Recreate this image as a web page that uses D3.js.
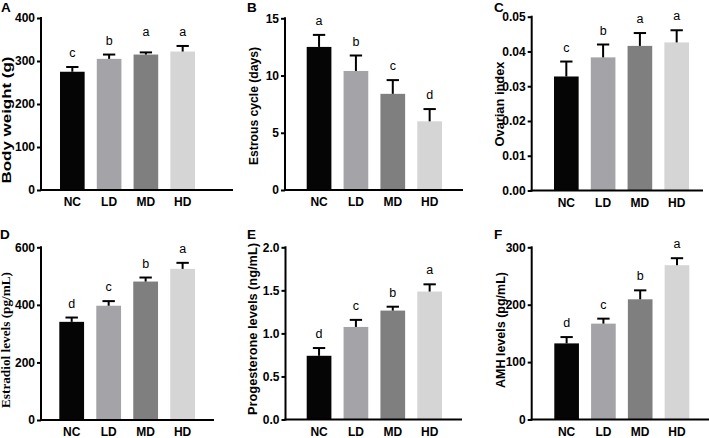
<!DOCTYPE html>
<html>
<head>
<meta charset="utf-8">
<script src="https://cdn.jsdelivr.net/npm/d3@7"></script>
<style>
  html, body { margin: 0; padding: 0; background: #ffffff; }
  svg { display: block; }
</style>
</head>
<body>
<svg id="chart" width="709" height="438"></svg>
<script>
// ---------------- DATA ----------------
const categories = ["NC", "LD", "MD", "HD"];

const bodyWeightMean = [275, 305, 315, 322];
const bodyWeightErr  = [11, 10, 5, 13];
const bodyWeightSig  = ["c", "b", "a", "a"];
const bodyWeightTicks = [0, 100, 200, 300, 400];

const estrousMean = [12.5, 10.4, 8.4, 6.0];
const estrousErr  = [1.05, 1.35, 1.2, 1.07];
const estrousSig  = ["a", "b", "c", "d"];
const estrousTicks = [0, 5, 10, 15];

const ovarianMean = [0.0328, 0.0383, 0.0416, 0.0426];
const ovarianErr  = [0.0043, 0.0037, 0.0037, 0.0035];
const ovarianSig  = ["c", "b", "a", "a"];
const ovarianTicks = [0, 0.01, 0.02, 0.03, 0.04, 0.05];

const estradiolMean = [341, 397, 481, 525];
const estradiolErr  = [15, 16, 14, 21];
const estradiolSig  = ["d", "c", "b", "a"];
const estradiolTicks = [0, 200, 400, 600];

const progesteroneMean = [0.74, 1.075, 1.265, 1.486];
const progesteroneErr  = [0.09, 0.082, 0.045, 0.084];
const progesteroneSig  = ["d", "c", "b", "a"];
const progesteroneTicks = [0, 0.5, 1.0, 1.5, 2.0];

const amhMean = [132.6, 167, 209.4, 268.8];
const amhErr  = [11, 8.7, 15.6, 12.2];
const amhSig  = ["d", "c", "b", "a"];
const amhTicks = [0, 100, 200, 300];

// ---------------- STYLE / LAYOUT ----------------
const barColors = ["#050505", "#a4a4a8", "#7f7f7f", "#d5d5d5"];
const SANS = "'Liberation Sans', Arial, sans-serif";
const SERIF = "'Liberation Serif', 'Times New Roman', serif";

const panels = [
  { tag: "A", title: "Body weight (g)", titleFont: SANS, titleLen: 127, titleX: 11, titleY: 120,
    mean: bodyWeightMean, err: bodyWeightErr, sig: bodyWeightSig, ticks: bodyWeightTicks, fmt: d3.format("d"),
    axisX: 41, xEnd: 233, barL: 60, barR: 195, yTop: 18, yBot: 190, tagX: 1, tagY: 12, alignSame: true },
  { tag: "B", title: "Estrous cycle (days)", titleFont: SANS, titleLen: 118, titleX: 258, titleY: 106,
    mean: estrousMean, err: estrousErr, sig: estrousSig, ticks: estrousTicks, fmt: d3.format("d"),
    axisX: 285, xEnd: 463, barL: 306.7, barR: 442, yTop: 18.3, yBot: 190, tagX: 247, tagY: 12 },
  { tag: "C", title: "Ovarian index", titleFont: SANS, titleLen: 85, titleX: 504, titleY: 104,
    mean: ovarianMean, err: ovarianErr, sig: ovarianSig, ticks: ovarianTicks, fmt: d3.format(".2f"),
    axisX: 531.7, xEnd: 703, barL: 554, barR: 689, yTop: 16.7, yBot: 190.5, tagX: 494, tagY: 12 },
  { tag: "D", title: "Estradiol levels (pg/mL)", titleFont: SERIF, titleLen: 136, titleX: 10, titleY: 340,
    mean: estradiolMean, err: estradiolErr, sig: estradiolSig, ticks: estradiolTicks, fmt: d3.format("d"),
    axisX: 41, xEnd: 214, barL: 59.3, barR: 195, yTop: 247.3, yBot: 420, tagX: 0, tagY: 239 },
  { tag: "E", title: "Progesterone levels (ng/mL)", titleFont: SANS, titleLen: 172, titleX: 257, titleY: 329,
    mean: progesteroneMean, err: progesteroneErr, sig: progesteroneSig, ticks: progesteroneTicks, fmt: d3.format(".1f"),
    axisX: 285.5, xEnd: 462, barL: 306.7, barR: 442, yTop: 247.3, yBot: 419.5, tagX: 247, tagY: 239 },
  { tag: "F", title: "AMH levels (pg/mL)", titleFont: SANS, titleLen: 116, titleX: 505, titleY: 330,
    mean: amhMean, err: amhErr, sig: amhSig, ticks: amhTicks, fmt: d3.format("d"),
    axisX: 531.7, xEnd: 709, barL: 554.3, barR: 689.3, yTop: 247.3, yBot: 419.5, tagX: 494, tagY: 239 }
];

const svg = d3.select("#chart");

panels.forEach(p => {
  const g = svg.append("g");
  const domainMax = p.ticks[p.ticks.length - 1];
  const y = d3.scaleLinear().domain([0, domainMax]).range([p.yBot, p.yTop]);
  const x = d3.scaleBand().domain(categories).range([p.barL, p.barR]).paddingInner(0.33).paddingOuter(0);
  const bw = x.bandwidth();

  const rows = categories.map((c, i) => ({ c, i, m: p.mean[i], e: p.err[i], s: p.sig[i] }));

  // bars
  g.selectAll("rect.bar").data(rows).join("rect")
    .attr("class", "bar")
    .attr("x", d => x(d.c))
    .attr("width", bw)
    .attr("y", d => y(d.m))
    .attr("height", d => y(0) - y(d.m))
    .attr("fill", d => barColors[d.i]);

  // error bars (upper only)
  const capW = bw * 0.5;
  g.selectAll("line.err").data(rows).join("line")
    .attr("x1", d => x(d.c) + bw / 2).attr("x2", d => x(d.c) + bw / 2)
    .attr("y1", d => y(d.m)).attr("y2", d => y(d.m + d.e))
    .attr("stroke", "#000").attr("stroke-width", 2);
  g.selectAll("line.cap").data(rows).join("line")
    .attr("x1", d => x(d.c) + bw / 2 - capW / 2).attr("x2", d => x(d.c) + bw / 2 + capW / 2)
    .attr("y1", d => y(d.m + d.e)).attr("y2", d => y(d.m + d.e))
    .attr("stroke", "#000").attr("stroke-width", 2);

  // significance letters
  const topOf = d => {
    let t = d.m + d.e;
    if (p.alignSame) {
      rows.forEach(r => { if (r.s === d.s) t = Math.max(t, r.m + r.e); });
    }
    return t;
  };
  g.selectAll("text.sig").data(rows).join("text")
    .attr("x", d => x(d.c) + bw / 2)
    .attr("y", d => y(topOf(d)) - 10)
    .attr("text-anchor", "middle")
    .attr("font-family", SANS)
    .attr("font-size", 12.5)
    .attr("fill", "#000")
    .text(d => d.s);

  // y axis
  const yAxis = d3.axisLeft(y).tickValues(p.ticks).tickFormat(p.fmt).tickSize(4).tickPadding(2);
  const ya = g.append("g").attr("transform", `translate(${p.axisX},0)`).call(yAxis);
  ya.select(".domain").remove();
  ya.selectAll(".tick line").attr("stroke", "#000").attr("stroke-width", 2);
  ya.selectAll(".tick text")
    .attr("font-family", SANS).attr("font-size", 12).attr("font-weight", "bold").attr("fill", "#000");
  g.append("line")
    .attr("x1", p.axisX).attr("x2", p.axisX)
    .attr("y1", p.yTop - 1).attr("y2", p.yBot + 1)
    .attr("stroke", "#000").attr("stroke-width", 2);

  // x axis
  g.append("line")
    .attr("x1", p.axisX - 1).attr("x2", p.xEnd)
    .attr("y1", p.yBot).attr("y2", p.yBot)
    .attr("stroke", "#000").attr("stroke-width", 2);
  g.selectAll("text.cat").data(rows).join("text")
    .attr("x", d => x(d.c) + bw / 2)
    .attr("y", p.yBot + 16)
    .attr("text-anchor", "middle")
    .attr("font-family", SANS).attr("font-size", 12).attr("font-weight", "bold")
    .attr("fill", "#000")
    .text(d => d.c);

  // y title
  g.append("text")
    .attr("transform", `translate(${p.titleX},${p.titleY}) rotate(-90)`)
    .attr("text-anchor", "middle")
    .attr("font-family", p.titleFont).attr("font-size", 12.5).attr("font-weight", "bold")
    .attr("textLength", p.titleLen).attr("lengthAdjust", "spacingAndGlyphs")
    .attr("fill", "#000")
    .text(p.title);

  // panel tag
  g.append("text")
    .attr("x", p.tagX).attr("y", p.tagY)
    .attr("font-family", SANS).attr("font-size", 13.5).attr("font-weight", "bold")
    .attr("fill", "#000")
    .text(p.tag);
});
</script>
</body>
</html>
